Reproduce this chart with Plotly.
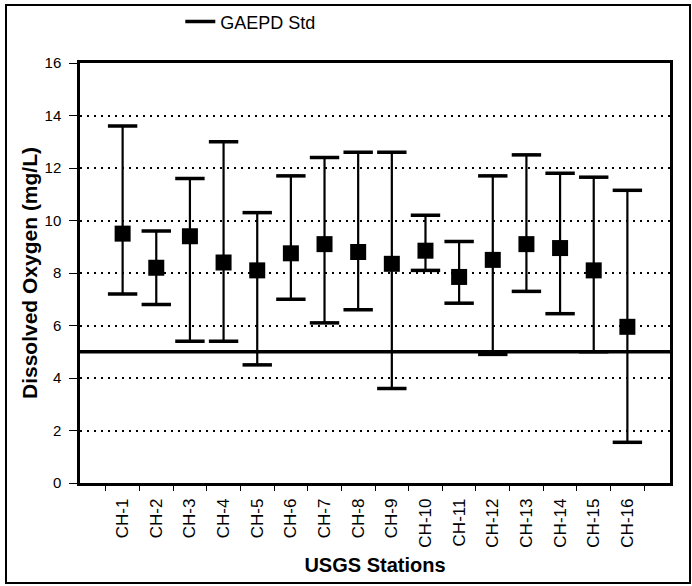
import plotly.graph_objects as go

stations = ["CH-1", "CH-2", "CH-3", "CH-4", "CH-5", "CH-6", "CH-7", "CH-8",
            "CH-9", "CH-10", "CH-11", "CH-12", "CH-13", "CH-14", "CH-15", "CH-16"]
do_mean = [9.5, 8.2, 9.4, 8.4, 8.1, 8.75, 9.1, 8.8, 8.35, 8.85, 7.85, 8.5, 9.1, 8.95, 8.1, 5.95]
do_max = [13.6, 9.6, 11.6, 13.0, 10.3, 11.7, 12.4, 12.6, 12.6, 10.2, 9.2, 11.7, 12.5, 11.8, 11.65, 11.15]
do_min = [7.2, 6.8, 5.4, 5.4, 4.5, 7.0, 6.1, 6.6, 3.6, 8.1, 6.85, 4.9, 7.3, 6.45, 5.0, 1.55]
std_value = 5
y_ticks = [0, 2, 4, 6, 8, 10, 12, 14, 16]

err_plus = [mx - m for mx, m in zip(do_max, do_mean)]
err_minus = [m - mn for mn, m in zip(do_min, do_mean)]

FONT = "Liberation Sans, Arial, sans-serif"

fig = go.Figure()
fig.add_trace(go.Scatter(
    x=stations, y=do_mean, mode="markers", showlegend=False,
    marker=dict(symbol="square", size=16, color="black"),
    error_y=dict(type="data", symmetric=False, array=err_plus, arrayminus=err_minus,
                 color="black", thickness=2.2, width=10),
))
# thicker caps at the max / min values
fig.add_trace(go.Scatter(
    x=stations + stations, y=do_max + do_min, mode="markers", showlegend=False,
    hoverinfo="skip",
    marker=dict(symbol="line-ew", size=21, color="black",
                line=dict(color="black", width=3.5)),
))
fig.add_trace(go.Scatter(
    x=[0, 1], y=[std_value, std_value], mode="lines", name="GAEPD Std",
    line=dict(color="black", width=3.5), xaxis="x2",
))

fig.update_layout(
    width=692, height=586,
    paper_bgcolor="white", plot_bgcolor="white",
    margin=dict(l=80, r=22, t=63, b=103, autoexpand=False),
    font=dict(family=FONT, color="black", size=15),
    showlegend=True,
    legend=dict(orientation="h", x=0.17, y=1.098, xanchor="left", yanchor="middle",
                font=dict(size=18), itemwidth=30, bgcolor="rgba(0,0,0,0)"),
    xaxis=dict(
        type="category", tickangle=-90, tickfont=dict(size=17),
        showline=True, linecolor="black", linewidth=2.5, mirror=True,
        ticks="outside", tickson="boundaries", ticklen=5, tickcolor="black",
        ticklabelstandoff=6,
        showgrid=False, zeroline=False,
        title=dict(text="<b>USGS Stations</b>", font=dict(size=20), standoff=12),
    ),
    xaxis2=dict(overlaying="x", range=[0, 1], visible=False),
    yaxis=dict(
        range=[0, 16], tickvals=y_ticks, tickfont=dict(size=15),
        showline=True, linecolor="black", linewidth=2.5, mirror=True,
        ticks="outside", ticklen=8, tickcolor="black",
        ticklabelstandoff=5,
        showgrid=True, gridcolor="black", griddash="2px,5px", gridwidth=1.5,
        zeroline=False,
        title=dict(text="<b>Dissolved Oxygen (mg/L)</b>", font=dict(size=21), standoff=2),
    ),
    shapes=[dict(type="rect", xref="paper", yref="paper",
                 x0=(6 - 80) / 590, x1=(690 - 80) / 590,
                 y0=(483 - 583) / 420, y1=(483 - 5) / 420,
                 line=dict(color="black", width=2), layer="below")],
)

fig.write_html("out.html", config={"displayModeBar": False},
               post_script="document.body.style.margin='0';")
